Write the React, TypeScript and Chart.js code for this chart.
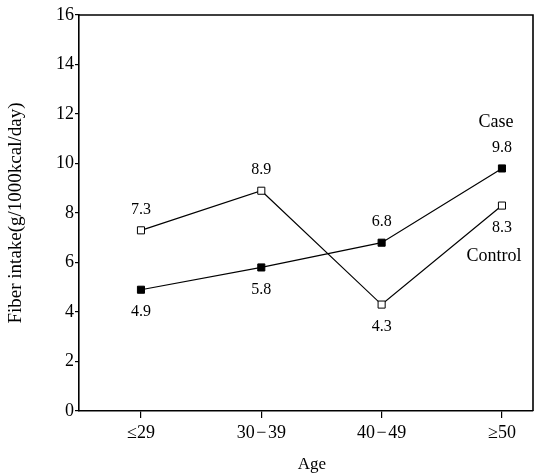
import React, { useEffect, useRef } from "react";
import { Chart, registerables } from "chart.js";

Chart.register(...registerables);

const categories = ["≤29", "30\u200A−\u200A39", "40\u200A−\u200A49", "≥50"];
const caseValues = [4.9, 5.8, 6.8, 9.8];
const controlValues = [7.3, 8.9, 4.3, 8.3];
const caseLabelSide = ["below", "below", "above", "above"];
const controlLabelSide = ["above", "above", "below", "below"];
const yTicks = [0, 2, 4, 6, 8, 10, 12, 14, 16];

const FONT = "'Liberation Serif', 'DejaVu Serif', serif";

const labelPlugin = {
  id: "valueLabels",
  afterDatasetsDraw(chart: any) {
    const ctx = chart.ctx;
    const area = chart.chartArea;
    ctx.save();
    // frame top & right
    ctx.strokeStyle = "#000";
    ctx.lineWidth = 1.6;
    ctx.beginPath();
    ctx.moveTo(area.left, area.top);
    ctx.lineTo(area.right, area.top);
    ctx.lineTo(area.right, area.bottom);
    ctx.stroke();

    ctx.fillStyle = "#000";
    ctx.font = `16px ${FONT}`;
    ctx.textAlign = "center";
    ctx.textBaseline = "middle";
    const sides = [caseLabelSide, controlLabelSide];
    const values = [caseValues, controlValues];
    chart.data.datasets.forEach((_: any, di: number) => {
      const meta = chart.getDatasetMeta(di);
      meta.data.forEach((pt: any, i: number) => {
        const dy = sides[di][i] === "above" ? -21 : 22;
        ctx.fillText(values[di][i].toFixed(1), pt.x, pt.y + dy);
      });
    });
    const caseLast = chart.getDatasetMeta(0).data[caseValues.length - 1];
    const ctrlLast = chart.getDatasetMeta(1).data[controlValues.length - 1];
    ctx.font = `18px ${FONT}`;
    ctx.fillText("Case", caseLast.x - 6, caseLast.y - 46);
    ctx.fillText("Control", ctrlLast.x - 8, ctrlLast.y + 51);

    // axis titles
    ctx.font = `17px ${FONT}`;
    ctx.fillText("Age", (area.left + area.right) / 2 + 6, 465);
    ctx.font = `19px ${FONT}`;
    ctx.translate(16, (area.top + area.bottom) / 2 + 0);
    ctx.rotate(-Math.PI / 2);
    ctx.fillText("Fiber intake(g/1000kcal/day)", 0, 0);
    ctx.restore();
  },
};

export default function App() {
  const ref = useRef<HTMLCanvasElement>(null);
  useEffect(() => {
    document.body.style.margin = "0";
    const chart = new Chart(ref.current as HTMLCanvasElement, {
      type: "line",
      data: {
        datasets: [
          {
            label: "Case",
            data: caseValues.map((v, i) => ({ x: i, y: v })),
            borderColor: "#000",
            borderWidth: 1.2,
            pointStyle: "rect",
            pointRadius: 5,
            pointBackgroundColor: "#000",
            pointBorderColor: "#000",
            pointBorderWidth: 1,
          },
          {
            label: "Control",
            data: controlValues.map((v, i) => ({ x: i, y: v })),
            borderColor: "#000",
            borderWidth: 1.2,
            pointStyle: "rect",
            pointRadius: 5,
            pointBackgroundColor: "#fff",
            pointBorderColor: "#000",
            pointBorderWidth: 1,
          },
        ],
      },
      options: {
        animation: false,
        responsive: false,
        layout: { padding: { top: 15, right: 6, left: 0, bottom: 0 } },
        plugins: { legend: { display: false }, tooltip: { enabled: false } },
        scales: {
          x: {
            type: "linear",
            min: -0.515,
            max: 3.258,
            afterBuildTicks: (s: any) => {
              s.ticks = categories.map((_, i) => ({ value: i }));
            },
            afterFit: (s: any) => {
              s.height = 64;
            },
            ticks: {
              callback: (v: any) => categories[v as number] ?? "",
              font: { family: FONT, size: 18 },
              color: "#000",
              padding: 4,
              maxRotation: 0,
            },
            grid: {
              drawOnChartArea: false,
              drawTicks: true,
              tickLength: 7,
              color: "#000",
              lineWidth: 1.2,
            },
            border: { display: true, color: "#000", width: 1.6 },
          },
          y: {
            type: "linear",
            min: 0,
            max: 16,
            afterBuildTicks: (s: any) => {
              s.ticks = yTicks.map((v) => ({ value: v }));
            },
            afterFit: (s: any) => {
              s.width = 79;
            },
            ticks: {
              font: { family: FONT, size: 18 },
              color: "#000",
              padding: 1,
            },
            grid: {
              drawOnChartArea: false,
              drawTicks: true,
              tickLength: 4,
              color: "#000",
              lineWidth: 1.2,
            },
            border: { display: true, color: "#000", width: 1.6 },
          },
        },
      },
      plugins: [labelPlugin],
    } as any);
    return () => chart.destroy();
  }, []);
  return (
    <div style={{ position: "absolute", left: 0, top: 0, width: 539, height: 475, background: "#fff" }}>
      <canvas ref={ref} width={539} height={475} style={{ width: 539, height: 475 }} />
    </div>
  );
}
